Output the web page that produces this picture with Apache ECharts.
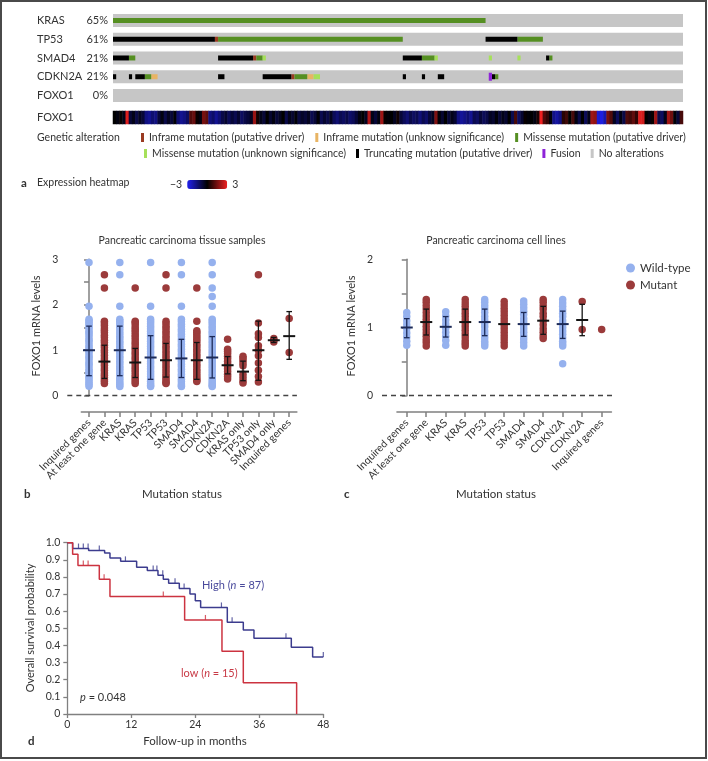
<!DOCTYPE html>
<html><head><meta charset="utf-8">
<script src="https://cdn.jsdelivr.net/npm/echarts@6.0.0/dist/echarts.min.js"></script>
<style>html,body{margin:0;padding:0;background:#fff}#c{width:708px;height:761px}</style>
</head><body><div id="c"></div><script>
// ---------------- DATA ----------------
const SAMPLE_COUNT = 179;
const GENES = ['KRAS','TP53','SMAD4','CDKN2A','FOXO1'];
const GENE_FREQ = ['65%','61%','21%','21%','0%'];
// [startSample, endSample, alterationType]
const KRAS_ALT = [[0,117,'MD']];
const TP53_ALT = [[0,32,'TR'],[32,33,'ID'],[33,91,'MD'],[117,127,'TR'],[127,135,'MD']];
const SMAD4_ALT = [[0,5,'TR'],[5,7,'MD'],[33,44,'TR'],[44,45,'ID'],[45,47,'MD'],[47,48,'MU'],[91,97,'TR'],[97,101,'MD'],[101,102,'MU'],[118,119,'MU'],[127,128,'MU'],[136,137,'TR'],[137,138,'MD']];
const CDKN2A_ALT = [[0,1,'TR'],[5,6,'TR'],[7,10,'TR'],[10,12,'MD'],[12,14,'IU'],[33,35,'TR'],[47,56,'TR'],[56,57,'ID'],[57,61,'MD'],[61,63,'IU'],[63,65,'MU'],[91,92,'TR'],[97,98,'TR'],[102,104,'TR'],[118,119,'FU'],[119,120,'TR'],[120,121,'MD']];
const FOXO1_ALT = [];
const ALT_KEYS = ['ID','IU','MD','MU','TR','FU'];
const ALT_LABELS = ['Inframe mutation (putative driver)','Inframe mutation (unknow significance)','Missense mutation (putative driver)','Missense mutation (unknown significance)','Truncating mutation (putative driver)','Fusion'];
const NO_ALT_LABEL = 'No alterations';
const FOXO1_EXPR = [
 0,-0.2,0.1,-0.3,2.8,-0.7,-0.3,-0.9,-0.4,-0.7,
 -1.6,-1.8,-1.4,-1.6,-0.7,-0.2,-0.9,-0.4,-0.7,-0.1,
 -1.4,-1.8,-1.6,-1.2,1.0,1.3,0.1,-0.2,1.5,1.2,
 -1.6,-1.3,-1.8,-1.4,-0.9,-0.6,-1.1,-0.7,-1.0,-0.6,
 -1.2,-0.9,-0.7,-0.4,1.9,0.2,-0.3,-0.7,0.0,-0.6,
 -0.2,-0.7,-0.4,0.0,-0.9,-0.3,-0.6,-0.1,-0.8,-0.5,
 -0.7,-0.4,-1.0,-0.7,-0.1,-1.0,-0.6,-0.9,-0.4,-1.1,
 -1.4,-1.0,-1.2,-0.9,-1.3,-1.1,-0.7,-0.2,0.0,-0.4,
 2.2,-0.3,-0.7,-0.2,2.0,0.1,-0.1,0.0,-0.4,0.2,
 -0.7,-1.1,-1.4,-0.9,-1.2,-1.0,-1.5,-1.0,-1.3,-0.7,
 -0.4,1.6,-0.1,-0.6,0.0,-0.7,-0.3,-0.6,-1.6,-1.9,
 -1.7,-1.4,-1.8,-1.0,-1.2,-0.7,-1.1,-0.9,-0.4,-0.6,
 -0.1,-0.7,-0.3,-0.6,0.0,-1.0,0.9,-1.2,-0.6,0.1,
 -0.1,0.0,-0.2,0.3,3.0,1.0,0.6,-0.1,-1.7,-2.0,
 -1.6,0.5,0.8,0.0,0.9,-0.2,-0.9,0.0,-1.1,-0.3,
 2.0,1.8,-2.6,-2.8,-2.2,1.5,1.0,-0.4,-1.1,-0.2,
 -0.9,1.0,0.8,1.2,0.6,2.8,2.6,0.0,-0.2,0.1,
 2.0,-0.9,-1.2,-0.3,2.0,1.4,-0.1,-0.7,0.9];

// Panel b: tissue samples
const CATS_B = ['Inquired genes','At least one gene','KRAS','KRAS','TP53','TP53','SMAD4','SMAD4','CDKN2A','CDKN2A','KRAS only','TP53 only','SMAD4 only','Inquired genes'];
const GROUP_B = ['wt','mut','wt','mut','wt','mut','wt','mut','wt','mut','mut','mut','mut','mut'];
const DOTS_B = [
 [2.93,1.97,1.68,1.65,1.61,1.57,1.52,1.47,1.41,1.38,1.33,1.27,1.22,1.18,1.12,1.07,1.03,0.98,0.94,0.88,0.84,0.79,0.73,0.69,0.64,0.58,0.54,0.49,0.43,0.39,0.34,0.29,0.25,0.21],
 [2.66,2.37,1.64,1.6,1.55,1.49,1.44,1.39,1.33,1.28,1.22,1.17,1.11,1.06,1.0,0.95,0.89,0.83,0.78,0.72,0.67,0.61,0.56,0.5,0.45,0.4,0.35,0.31,0.27],
 [2.93,2.66,1.97,1.68,1.64,1.59,1.54,1.49,1.43,1.37,1.31,1.26,1.2,1.15,1.09,1.04,0.98,0.93,0.87,0.82,0.76,0.71,0.65,0.6,0.55,0.49,0.44,0.38,0.33,0.28,0.24,0.2],
 [2.37,1.64,1.61,1.56,1.5,1.45,1.4,1.34,1.29,1.23,1.17,1.12,1.06,1.01,0.95,0.9,0.84,0.79,0.73,0.68,0.62,0.57,0.52,0.46,0.41,0.36,0.31,0.27],
 [2.93,1.97,1.68,1.63,1.58,1.53,1.47,1.42,1.36,1.31,1.25,1.2,1.14,1.09,1.03,0.97,0.92,0.86,0.81,0.75,0.7,0.64,0.59,0.53,0.48,0.42,0.37,0.32,0.27,0.23,0.2],
 [2.66,2.37,1.64,1.59,1.53,1.48,1.42,1.37,1.31,1.26,1.2,1.15,1.09,1.04,0.98,0.92,0.87,0.81,0.76,0.7,0.65,0.59,0.54,0.48,0.43,0.38,0.33,0.29,0.27],
 [2.93,2.66,1.97,1.68,1.63,1.57,1.52,1.46,1.41,1.35,1.3,1.24,1.19,1.13,1.08,1.02,0.97,0.91,0.86,0.8,0.75,0.69,0.64,0.58,0.53,0.47,0.42,0.36,0.31,0.26,0.22,0.2],
 [2.37,1.64,1.43,1.39,1.34,1.29,1.24,1.19,1.13,1.08,1.02,0.97,0.91,0.86,0.8,0.75,0.69,0.64,0.58,0.53,0.48,0.43,0.38,0.34,0.31],
 [2.93,2.66,2.37,2.18,1.97,1.68,1.64,1.59,1.53,1.48,1.42,1.37,1.31,1.26,1.2,1.14,1.09,1.03,0.98,0.92,0.87,0.81,0.76,0.7,0.65,0.59,0.54,0.48,0.43,0.37,0.32,0.27,0.23,0.2],
 [1.24,1.02,0.98,0.93,0.87,0.82,0.76,0.7,0.65,0.59,0.53,0.47,0.42,0.37],
 [0.87,0.83,0.78,0.72,0.66,0.47,0.4,0.33,0.28],
 [2.66,1.6,1.36,1.28,1.1,1.0,0.88,0.72,0.56,0.42,0.3],
 [1.26,1.22,1.18],
 [1.70,0.95]];
const MEAN_B = [1.0,0.75,1.0,0.73,0.84,0.78,0.82,0.78,0.84,0.67,0.53,1.0,1.22,1.31];
const SD_HI_B = [1.53,1.11,1.53,1.04,1.32,1.15,1.24,1.17,1.30,0.86,0.76,1.64,1.28,1.85];
const SD_LO_B = [0.44,0.38,0.44,0.40,0.36,0.41,0.40,0.36,0.39,0.48,0.33,0.34,1.17,0.80];

// Panel c: cell lines
const CATS_C = ['Inquired genes','At least one gene','KRAS','KRAS','TP53','TP53','SMAD4','SMAD4','CDKN2A','CDKN2A','Inquired genes'];
const GROUP_C = ['wt','mut','wt','mut','wt','mut','wt','mut','wt','mut','mut'];
const DOTS_C = [
 [1.22,1.16,1.1,1.04,0.98,0.92,0.86,0.8,0.74],
 [1.41,1.37,1.32,1.27,1.22,1.17,1.12,1.07,1.02,0.97,0.92,0.87,0.82,0.78,0.73],
 [1.23,1.17,1.11,1.05,0.99,0.93,0.87,0.81,0.74],
 [1.41,1.36,1.31,1.26,1.21,1.16,1.11,1.06,1.01,0.96,0.91,0.86,0.81,0.77,0.73],
 [1.41,1.37,1.32,1.27,1.22,1.16,1.11,1.06,1.01,0.95,0.9,0.85,0.8,0.76,0.73],
 [1.38,1.33,1.28,1.23,1.18,1.13,1.08,1.03,0.98,0.93,0.88,0.83,0.78,0.73],
 [1.39,1.34,1.29,1.24,1.19,1.13,1.08,1.03,0.98,0.93,0.88,0.83,0.78,0.73],
 [1.41,1.37,1.32,1.27,1.21,1.16,1.1,1.04,0.98,0.93,0.88,0.84],
 [1.41,1.36,1.31,1.26,1.21,1.16,1.1,1.05,1.0,0.95,0.9,0.85,0.8,0.76,0.73,0.47],
 [1.38,0.97],
 [0.97]];
const MEAN_C = [1.0,1.08,1.01,1.08,1.08,1.05,1.05,1.10,1.05,1.11,null];
const SD_HI_C = [1.13,1.27,1.16,1.27,1.27,null,1.22,1.31,1.24,1.34,null];
const SD_LO_C = [0.85,0.89,0.86,0.89,0.88,null,0.87,0.90,0.84,0.88,null];

// Panel d: Kaplan-Meier
const HIGH_T = [0,1,4,7,8,10,13,15,17,18,19,21,23,24,25,30,33,35,42,46,48];
const HIGH_S = [1,0.966,0.954,0.94,0.911,0.891,0.857,0.837,0.81,0.787,0.763,0.733,0.70,0.661,0.622,0.536,0.49,0.442,0.39,0.333,0.333];
const LOW_T = [0,1,2,6,8,22,29,33,43];
const LOW_S = [1,0.933,0.867,0.787,0.686,0.549,0.366,0.183,0];
const CENSOR_HIGH = [2.1,3,3.9,6,10.9,16.1,16.8,17.9,20.2,21.9,28.9,30.9,41,48];
const CENSOR_LOW = [3,3.9,6.9,18,25.9];
const X_TICKS_D = [0,12,24,36,48];

// ---------------- STYLE ----------------
const FONT = 'Lato';
const FS = 10.5;
const TXT = '#333';
const AX = '#808080';
const ALT_COLORS = {ID:'#9a3b22', IU:'#e8b464', MD:'#558f22', MU:'#a6e05a', TR:'#000000', FU:'#8e24d8'};
const ALT_H = {ID:5, IU:5, MD:5, MU:5, TR:5, FU:8};
const WT_COL = '#95b1ee', MUT_COL = '#9b3b3b';
const HIGH_COL = '#3c3c8e', LOW_COL = '#cc3340';

const ALT_BY_GENE = [KRAS_ALT, TP53_ALT, SMAD4_ALT, CDKN2A_ALT, FOXO1_ALT];

function rectRender(h) {
  return function (params, api) {
    const r = api.value(0);
    const a = api.coord([api.value(1), r]);
    const b = api.coord([api.value(2), r]);
    return {type:'rect', shape:{x:a[0], y:a[1]-h/2, width:b[0]-a[0], height:h}, style:{fill: api.visual('color')}};
  };
}
function errRender(params, api) {
  const i = api.value(0), m = api.value(1), lo = api.value(2), hi = api.value(3), g = api.value(4);
  const col = g === 0 ? '#1d2b58' : '#141414';
  const pm = api.coord([i, m]);
  const ch = [{type:'line', shape:{x1:pm[0]-6, y1:pm[1], x2:pm[0]+6, y2:pm[1]}, style:{stroke:col, lineWidth:2}}];
  if (!isNaN(lo) && !isNaN(hi)) {
    const pl = api.coord([i, lo]), ph = api.coord([i, hi]);
    ch.push({type:'line', shape:{x1:pl[0], y1:pl[1], x2:ph[0], y2:ph[1]}, style:{stroke:col, lineWidth:1.3}});
    ch.push({type:'line', shape:{x1:pl[0]-2.8, y1:pl[1], x2:pl[0]+2.8, y2:pl[1]}, style:{stroke:col, lineWidth:1.3}});
    ch.push({type:'line', shape:{x1:ph[0]-2.8, y1:ph[1], x2:ph[0]+2.8, y2:ph[1]}, style:{stroke:col, lineWidth:1.3}});
  }
  return {type:'group', children:ch};
}
function dotsOf(dots, groups, which) {
  const out = [];
  dots.forEach((col, i) => { if (groups[i] === which) col.forEach(v => out.push([i, v])); });
  return out;
}
function errOf(means, lo, hi, groups) {
  const out = [];
  means.forEach((m, i) => { if (m != null) out.push([i, m, lo[i], hi[i], groups[i] === 'wt' ? 0 : 1]); });
  return out;
}
function survAt(T, S, t) { let s = S[0]; for (let k = 0; k < T.length; k++) if (T[k] <= t) s = S[k]; return s; }

const series = [];
series.push({name:NO_ALT_LABEL, type:'custom', xAxisIndex:0, yAxisIndex:0, renderItem:rectRender(13),
  itemStyle:{color:'#c6c6c6'}, encode:{x:[1,2], y:0}, data: GENES.map((g,i)=>[i,0,SAMPLE_COUNT]), silent:true});
ALT_KEYS.forEach((k, idx) => {
  const data = [];
  ALT_BY_GENE.forEach((segs, r) => segs.forEach(s => { if (s[2] === k) data.push([r, s[0], s[1]]); }));
  series.push({name:ALT_LABELS[idx], type:'custom', xAxisIndex:0, yAxisIndex:0, renderItem:rectRender(ALT_H[k]),
    itemStyle:{color:ALT_COLORS[k]}, encode:{x:[1,2], y:0}, data, silent:true, z:3});
});
series.push({name:'FOXO1 expression', type:'heatmap', xAxisIndex:1, yAxisIndex:1,
  data: FOXO1_EXPR.map((v,i)=>[i,0,v]), silent:true});
const HEAT_IDX = series.length - 1;

const zeroLine = {symbol:'none', silent:true, label:{show:false}, lineStyle:{type:[5,4], color:'#444', width:1.4}, data:[{yAxis:0}]};
series.push({name:'Wild-type', type:'scatter', xAxisIndex:2, yAxisIndex:2, symbolSize:7.5, itemStyle:{color:WT_COL, opacity:1},
  data: dotsOf(DOTS_B, GROUP_B, 'wt'), markLine: zeroLine, silent:true});
series.push({name:'Mutant', type:'scatter', xAxisIndex:2, yAxisIndex:2, symbolSize:7.5, itemStyle:{color:MUT_COL, opacity:1},
  data: dotsOf(DOTS_B, GROUP_B, 'mut'), silent:true});
series.push({name:'errB', type:'custom', xAxisIndex:2, yAxisIndex:2, renderItem:errRender, encode:{x:0, y:1},
  data: errOf(MEAN_B, SD_LO_B, SD_HI_B, GROUP_B), z:5, silent:true});
series.push({name:'Wild-type', type:'scatter', xAxisIndex:4, yAxisIndex:4, symbolSize:7.5, itemStyle:{color:WT_COL, opacity:1},
  data: dotsOf(DOTS_C, GROUP_C, 'wt'), markLine: zeroLine, silent:true});
series.push({name:'Mutant', type:'scatter', xAxisIndex:4, yAxisIndex:4, symbolSize:7.5, itemStyle:{color:MUT_COL, opacity:1},
  data: dotsOf(DOTS_C, GROUP_C, 'mut'), silent:true});
series.push({name:'errC', type:'custom', xAxisIndex:4, yAxisIndex:4, renderItem:errRender, encode:{x:0, y:1},
  data: errOf(MEAN_C, SD_LO_C, SD_HI_C, GROUP_C), z:5, silent:true});
series.push({name:'High', type:'line', xAxisIndex:6, yAxisIndex:6, step:'end', showSymbol:false, symbol:'none',
  lineStyle:{color:HIGH_COL, width:1.5}, itemStyle:{color:HIGH_COL}, data: HIGH_T.map((t,i)=>[t,HIGH_S[i]]), silent:true, z:3});
series.push({name:'Low', type:'line', xAxisIndex:6, yAxisIndex:6, step:'end', showSymbol:false, symbol:'none',
  lineStyle:{color:LOW_COL, width:1.5}, itemStyle:{color:LOW_COL}, data: LOW_T.map((t,i)=>[t,LOW_S[i]]), silent:true, z:3});
series.push({name:'censorHigh', type:'scatter', xAxisIndex:6, yAxisIndex:6, symbol:'rect', symbolSize:[1.2,5], symbolOffset:[0,-2.5],
  itemStyle:{color:HIGH_COL}, data: CENSOR_HIGH.map(t=>[t, survAt(HIGH_T, HIGH_S, t)]), silent:true});
series.push({name:'censorLow', type:'scatter', xAxisIndex:6, yAxisIndex:6, symbol:'rect', symbolSize:[1.2,5], symbolOffset:[0,-2.5],
  itemStyle:{color:LOW_COL}, data: CENSOR_LOW.map(t=>[t, survAt(LOW_T, LOW_S, t)]), silent:true});

const axLine = {show:true, lineStyle:{color:AX, width:1.5}};
const axTick = {show:true, length:5, lineStyle:{color:AX, width:1.5}};
const lbl = {color:TXT, fontSize:FS, fontFamily:FONT};

const grids = [
  {left:113, width:570, top:11.1, height:93.75},      // 0 oncoprint
  {left:113, width:570, top:111, height:13},          // 1 heatmap
  {left:67.3, width:229.6, top:259.3, height:136.4},  // 2 b data
  {left:81.3, width:215.6, top:396, height:16},       // 3 b axis
  {left:382, width:230, top:259.3, height:136.4},     // 4 c data
  {left:396.95, width:214.5, top:396, height:16},     // 5 c axis
  {left:67.3, width:256, top:542.7, height:171.3}     // 6 d
].map(g => Object.assign({outerBoundsMode:'none', containLabel:false}, g));

const xAxes = [
  {gridIndex:0, type:'value', min:0, max:SAMPLE_COUNT, show:false},
  {gridIndex:1, type:'category', data: FOXO1_EXPR.map((v,i)=>String(i)), show:false},
  {gridIndex:2, type:'value', min:-1.41, max:13.5, show:false},
  {gridIndex:3, type:'category', data: CATS_B.map((c,i)=>String(i)), position:'bottom',
    axisLine:axLine, axisTick:Object.assign({alignWithLabel:true}, axTick),
    axisLabel:Object.assign({interval:0, rotate:45, margin:9, formatter:(v,i)=>CATS_B[i]}, lbl)},
  {gridIndex:4, type:'value', min:-1.27, max:10.53, show:false},
  {gridIndex:5, type:'category', data: CATS_C.map((c,i)=>String(i)), position:'bottom',
    axisLine:axLine, axisTick:Object.assign({alignWithLabel:true}, axTick),
    axisLabel:Object.assign({interval:0, rotate:45, margin:9, formatter:(v,i)=>CATS_C[i]}, lbl)},
  {gridIndex:6, type:'value', min:X_TICKS_D[0], max:X_TICKS_D[X_TICKS_D.length-1], interval:12,
    axisLine:{show:true, lineStyle:{color:AX, width:1.3}}, axisTick:{show:true, length:4, lineStyle:{color:AX, width:1.3}},
    axisLabel:Object.assign({margin:5}, lbl), splitLine:{show:false}}
];
const GFS = 11;
const geneLabel = {
  show:true, margin:5, color:TXT, fontSize:GFS, fontFamily:FONT,
  rich:{g:{width:50, align:'left', color:TXT, fontSize:GFS, fontFamily:FONT}, p:{width:21, align:'right', color:TXT, fontSize:GFS, fontFamily:FONT}}
};
const yAxes = [
  {gridIndex:0, type:'category', data:GENES, inverse:true, axisLine:{show:false}, axisTick:{show:false},
    axisLabel:Object.assign({formatter:(v,i)=>'{g|'+v+'}{p|'+GENE_FREQ[i]+'}'}, geneLabel)},
  {gridIndex:1, type:'category', data:['FOXO1'], axisLine:{show:false}, axisTick:{show:false},
    axisLabel:Object.assign({formatter:(v)=>'{g|'+v+'}{p|}'}, geneLabel)},
  {gridIndex:2, type:'value', min:0, max:3, interval:0.5, axisLine:axLine, axisTick:axTick, splitLine:{show:false},
    axisLabel:Object.assign({margin:9, formatter:v=>Number.isInteger(v)?String(v):''}, lbl)},
  {gridIndex:3, type:'value', show:false},
  {gridIndex:4, type:'value', min:0, max:2, interval:0.5, axisLine:axLine, axisTick:axTick, splitLine:{show:false},
    axisLabel:Object.assign({margin:9, formatter:v=>Number.isInteger(v)?String(v):''}, lbl)},
  {gridIndex:5, type:'value', show:false},
  {gridIndex:6, type:'value', min:0, max:1, interval:0.1,
    axisLine:{show:true, lineStyle:{color:AX, width:1.3}}, axisTick:{show:true, length:4, lineStyle:{color:AX, width:1.3}},
    splitLine:{show:false}, axisLabel:Object.assign({margin:7, formatter:v=>Math.abs(v)<1e-9?'0':v.toFixed(1)}, lbl)}
];

function T(text, x, y, opt) {
  return Object.assign({type:'text', x, y, silent:true,
    style:Object.assign({text, fill:TXT, fontSize:FS, fontFamily:FONT, align:'left', verticalAlign:'middle'}, opt||{})});
}
const graphics = [
  {type:'rect', shape:{x:1, y:1, width:705, height:757}, style:{fill:'none', stroke:'#4a4a4a', lineWidth:2}, silent:true},
  T('Genetic alteration', 37, 138),
  T('a', 21, 183, {fontWeight:'bold', fontSize:11.5}),
  T('Expression heatmap', 37, 183),
  T('Pancreatic carcinoma tissue samples', 182, 241, {align:'center'}),
  T('Pancreatic carcinoma cell lines', 496, 241, {align:'center'}),
  T('Mutation status', 182, 494, {align:'center', fontSize:11.5}),
  T('Mutation status', 496, 494, {align:'center', fontSize:11.5}),
  T('b', 24, 494, {fontWeight:'bold', fontSize:11.5}),
  T('c', 344, 494, {fontWeight:'bold', fontSize:11.5}),
  T('d', 28, 741, {fontWeight:'bold', fontSize:11.5}),
  Object.assign(T('FOXO1 mRNA levels', 36, 326, {align:'center', fontSize:11}), {rotation:Math.PI/2}),
  Object.assign(T('FOXO1 mRNA levels', 351, 326, {align:'center', fontSize:11}), {rotation:Math.PI/2}),
  Object.assign(T('Overall survival probability', 30, 628, {align:'center', fontSize:11}), {rotation:Math.PI/2}),
  T('Follow-up in months', 195, 741, {align:'center', fontSize:11.5}),
  T('{a|High (}{i|n}{a| = 87)}', 202, 585, {rich:{a:{fill:'#4a4a9c', fontSize:11, fontFamily:FONT}, i:{fill:'#4a4a9c', fontSize:11, fontFamily:FONT, fontStyle:'italic'}}}),
  T('{a|low (}{i|n}{a| = 15)}', 181, 673, {rich:{a:{fill:'#c83a46', fontSize:11, fontFamily:FONT}, i:{fill:'#c83a46', fontSize:11, fontFamily:FONT, fontStyle:'italic'}}}),
  T('{i|p}{a| = 0.048}', 80, 697, {rich:{a:{fill:TXT, fontSize:11, fontFamily:FONT}, i:{fill:TXT, fontSize:11, fontFamily:FONT, fontStyle:'italic'}}})
];

const legendText = {color:TXT, fontSize:FS, fontFamily:FONT};
const option = {
  animation:false,
  textStyle:{fontFamily:FONT},
  grid: grids, xAxis: xAxes, yAxis: yAxes,
  visualMap: [{type:'continuous', seriesIndex:HEAT_IDX, dimension:2, min:-3, max:3, calculable:false, hoverLink:false,
    orient:'horizontal', left:155, top:164, itemWidth:9, itemHeight:40, text:['3','\u22123'], textGap:5,
    textStyle:legendText, inRange:{color:['#2020f0','#000000','#ee2020']}}],
  legend: [
    {data:ALT_LABELS.slice(0,3), left:141, top:132, orient:'horizontal', icon:'rect', itemWidth:3, itemHeight:9, itemGap:11, selectedMode:false, textStyle:legendText, padding:0},
    {data:ALT_LABELS.slice(3).concat([NO_ALT_LABEL]), left:144, top:148, orient:'horizontal', icon:'rect', itemWidth:3, itemHeight:9, itemGap:10, selectedMode:false, textStyle:legendText, padding:0},
    {data:['Wild-type','Mutant'], left:626, top:262, orient:'vertical', icon:'circle', itemWidth:9, itemHeight:9, itemGap:5, selectedMode:false, textStyle:{color:TXT, fontSize:11.5, fontFamily:FONT}, padding:0}
  ],
  graphic: graphics,
  series: series
};
const chart = echarts.init(document.getElementById('c'), null, {renderer:'canvas'});
chart.setOption(option);
</script></body></html>
